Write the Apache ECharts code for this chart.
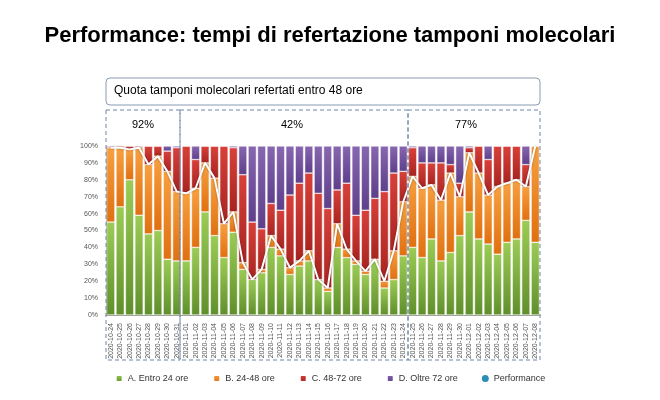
<!DOCTYPE html>
<html><head><meta charset="utf-8">
<script src="https://cdn.jsdelivr.net/npm/echarts@6/dist/echarts.min.js"></script>
<style>html,body{margin:0;background:#fff}#c{width:660px;height:400px}</style>
</head><body><div id="c"></div>
<script>
const dates = [];
(function () {
  const d = new Date(Date.UTC(2020, 9, 24));
  for (let i = 0; i < 46; i++) {
    dates.push(d.toISOString().slice(0, 10));
    d.setUTCDate(d.getUTCDate() + 1);
  }
})();
// cumulative tops (%)
const topA = [55,64,80,59,48,50,33,32,32,40,61,47,34,49,27,21,25,40,35,24,29,32,21,14,40,34,30,24,32,16,21,35,40,34,45,32,37,47,61,45,42,36,43,45,56,43];
const topB = [99,99,98,99,89,94,85,73,72,75,90,81,54,61,31,21,27,47,39,28,32,38,21,16,54,39,32,26,33,20,38,67,82,75,77,68,84,70,96,84,71,76,78,80,76,100];
const topC = [100,100,100,100,100,100,97,99,100,92,100,100,100,99,83,55,51,66,62,71,78,84,72,63,74,78,59,62,69,73,84,85,99,90,90,90,89,78,99,100,92,100,100,100,89,100];

const entro24 = topA;
const entro48 = topB.map((v, i) => Math.max(v - topA[i], 0));
const entro72 = topC.map((v, i) => Math.max(v - topB[i], 0));
const oltre72 = topC.map(v => 100 - v);
const performance = topB;

function grad(a, b) {
  return new echarts.graphic.LinearGradient(0, 0, 0, 1, [{offset: 0, color: a}, {offset: 1, color: b}]);
}
const chart = echarts.init(document.getElementById('c'));
const bar = (name, data, c1, c2) => ({
  name, type: 'bar', stack: 'q', data, barCategoryGap: '12%',
  itemStyle: {color: grad(c1, c2), borderColor: '#fff', borderWidth: 0.5}
});
chart.setOption({
  animation: false,
  title: {text: 'Performance: tempi di refertazione tamponi molecolari', left: 'center', top: 20,
    textStyle: {fontFamily: 'Liberation Sans', fontSize: 22, fontWeight: 'bold', color: '#000'}},
  grid: {left: 106, right: 120, top: 146, bottom: 85},
  xAxis: {type: 'category', data: dates,
    axisLabel: {rotate: 90, interval: 0, fontSize: 7, color: '#555'},
    axisLine: {lineStyle: {color: '#999'}}, axisTick: {show: false}},
  yAxis: {type: 'value', min: 0, max: 100, interval: 10,
    axisLabel: {formatter: '{value}%', fontSize: 7, color: '#555'},
    splitLine: {show: false}, axisLine: {show: true, lineStyle: {color: '#999'}}},
  legend: {bottom: 12, itemWidth: 7, itemHeight: 7, itemGap: 24, textStyle: {fontSize: 9, color: '#333'},
    data: ['A. Entro 24 ore', 'B. 24-48 ore', 'C. 48-72 ore', 'D. Oltre 72 ore',
      {name: 'Performance', icon: 'circle', itemStyle: {color: '#2a8fb5'}}]},
  series: [
    bar('A. Entro 24 ore', entro24, '#9ccc55', '#5f8f2a'),
    bar('B. 24-48 ore', entro48, '#f7a040', '#e07010'),
    bar('C. 48-72 ore', entro72, '#d8403a', '#a82420'),
    bar('D. Oltre 72 ore', oltre72, '#8866b0', '#5e3f8a'),
    {name: 'Performance', type: 'line', data: performance, symbol: 'none',
      lineStyle: {color: '#fff', width: 2, shadowColor: 'rgba(0,0,0,0.4)', shadowBlur: 2}, itemStyle: {color: '#2a8fb5'}, z: 5}
  ],
  graphic: [
    {type: 'rect', shape: {x: 106, y: 78, width: 434, height: 27, r: 4},
      style: {fill: '#fff', stroke: '#8a9bb0', lineWidth: 1}},
    {type: 'text', x: 114, y: 85, style: {text: 'Quota tamponi molecolari refertati entro 48 ore', fontSize: 12, fill: '#000'}},
    {type: 'rect', shape: {x: 106, y: 110, width: 74, height: 250}, z: 10,
      style: {fill: 'none', stroke: '#6f86a8', lineDash: [4, 3], lineWidth: 1}},
    {type: 'rect', shape: {x: 180, y: 110, width: 228, height: 250}, z: 10,
      style: {fill: 'none', stroke: '#6f86a8', lineDash: [4, 3], lineWidth: 1}},
    {type: 'rect', shape: {x: 408, y: 110, width: 132, height: 250}, z: 10,
      style: {fill: 'none', stroke: '#6f86a8', lineDash: [4, 3], lineWidth: 1}},
    {type: 'text', x: 143, y: 125, style: {text: '92%', fontSize: 11, fill: '#000', textAlign: 'center', textVerticalAlign: 'middle'}},
    {type: 'text', x: 292, y: 125, style: {text: '42%', fontSize: 11, fill: '#000', textAlign: 'center', textVerticalAlign: 'middle'}},
    {type: 'text', x: 466, y: 125, style: {text: '77%', fontSize: 11, fill: '#000', textAlign: 'center', textVerticalAlign: 'middle'}}
  ]
});
</script></body></html>
